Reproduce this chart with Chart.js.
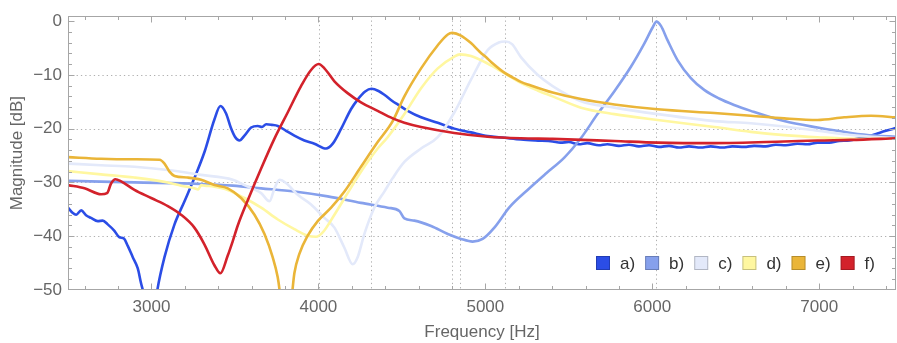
<!DOCTYPE html>
<html>
<head>
<meta charset="utf-8">
<script src="https://cdn.jsdelivr.net/npm/chart.js@4/dist/chart.umd.min.js"></script>
<style>
html,body{margin:0;padding:0;background:#fff;}
canvas{display:block;}
</style>
</head>
<body>
<canvas id="c" width="897" height="343" style="width:897px;height:343px"></canvas>
<script>
// ---- data ----
const seriesLabels = ['a)', 'b)', 'c)', 'd)', 'e)', 'f)'];
const seriesColors = ['#2b4de6', '#86a0ec', '#e3e9fa', '#fff7a0', '#eab538', '#d3222b'];

const freqA = [2500,2529,2549,2579,2608,2638,2678,2708,2738,2778,2808,2834,2858,2888,2918,2938,2950,2990,3034,3078,3138,3198,3257,3317,3377,3413,3447,3475,3500,3527,3557,3597,3637,3662,3687,3720,3757,3806,3856,3916,3976,4046,4086,4135,4195,4235,4280,4318,4360,4395,4445,4475,4535,4615,4715,4814,4914,5014,5114,5213,5300,5403,5450,5500,5560,5610,5680,5730,5800,5860,5920,5980,6040,6100,6160,6220,6290,6350,6420,6480,6550,6610,6680,6740,6800,6870,6930,6990,7060,7120,7180,7250,7300,7349,7400,7460];
const magA  = [-34.7,-35.7,-36.0,-35.2,-36.1,-36.6,-37.2,-37.1,-37.8,-39.0,-40.2,-40.4,-41.8,-43.9,-46.0,-48.8,-50.3,-60,-50.2,-43.9,-37.8,-33.5,-29.2,-24.4,-18.3,-15.8,-17.2,-19.8,-21.5,-22.2,-21.3,-19.8,-19.5,-19.7,-19.2,-19.3,-19.5,-20.4,-21.3,-22.2,-22.8,-23.7,-22.8,-20.1,-16.4,-14.6,-13.1,-12.6,-13.0,-13.7,-14.9,-15.5,-16.7,-17.9,-18.9,-20.0,-20.7,-21.4,-21.7,-22.0,-22.2,-22.4,-22.6,-22.5,-22.9,-22.7,-23.1,-22.9,-23.2,-23.0,-23.3,-23.1,-23.4,-23.2,-23.5,-23.3,-23.5,-23.3,-23.5,-23.3,-23.4,-23.2,-23.3,-23.0,-23.1,-22.8,-22.9,-22.6,-22.6,-22.3,-22.2,-21.7,-21.4,-20.9,-20.4,-19.9];

const freqB = [2500,2898,3297,3487,3657,3856,4056,4255,4415,4485,4515,4575,4675,4775,4854,4924,4984,5054,5145,5253,5365,5473,5572,5672,5772,5872,5952,6002,6025,6052,6092,6152,6231,6311,6400,6490,6590,6790,6990,7190,7330,7460];
const magB  = [-29.7,-30.0,-30.3,-30.6,-31.1,-31.7,-32.6,-33.8,-34.7,-35.3,-36.7,-37.1,-38.1,-39.6,-40.5,-41.0,-40.5,-38.4,-34.6,-31.4,-28.3,-25.4,-21.8,-17.3,-13.1,-8.5,-4.2,-1.2,-0.1,-0.9,-3.6,-7.3,-10.6,-12.8,-14.4,-15.6,-16.7,-18.6,-19.8,-20.8,-21.3,-21.5];

const freqC = [2500,2698,2898,3098,3297,3487,3557,3657,3707,3737,3767,3806,3876,3956,4036,4096,4155,4205,4235,4275,4335,4395,4445,4515,4615,4715,4814,4914,5014,5080,5120,5160,5213,5313,5403,5573,5773,6032,6372,6590,6790,6990,7190,7460];
const magC  = [-26.5,-26.8,-27.1,-27.7,-28.6,-29.5,-30.5,-32.0,-33.5,-31.1,-29.5,-30.1,-32.3,-34.1,-36.6,-38.4,-42.1,-45.2,-43.9,-39.6,-34.7,-31.7,-29.2,-26.2,-23.7,-21.6,-17.0,-10.9,-5.4,-4.0,-3.8,-4.3,-6.7,-10.0,-12.1,-14.9,-16.1,-17.3,-18.6,-19.0,-19.6,-20.4,-21.2,-21.8];

const freqD = [2500,2698,2898,3098,3177,3257,3280,3298,3320,3377,3457,3557,3657,3757,3856,3936,3986,4026,4096,4175,4255,4355,4415,4515,4615,4715,4814,4848,4914,5014,5114,5213,5313,5403,5573,5773,6032,6372,6590,6790,6990,7230,7460];
const magD  = [-27.9,-28.5,-29.1,-30.0,-30.6,-31.1,-31.3,-30.5,-30.6,-30.8,-31.4,-32.9,-34.7,-36.9,-38.7,-39.9,-40.1,-39.3,-36.0,-32.0,-28.0,-23.7,-21.6,-17.3,-12.5,-8.8,-6.6,-6.2,-6.5,-7.9,-9.7,-11.5,-12.9,-14.0,-16.1,-17.3,-18.4,-19.7,-20.6,-21.2,-21.6,-21.9,-21.8];

const freqE = [2500,2698,2898,3048,3078,3108,3138,3217,3297,3377,3457,3537,3617,3677,3726,3756,3768,3805,3844,3856,3886,3936,3996,4076,4156,4255,4355,4445,4515,4615,4715,4775,4802,4854,4914,4966,5014,5045,5114,5165,5213,5265,5403,5573,5773,6032,6372,6590,6790,6990,7150,7310,7460];
const magE  = [-25.3,-25.6,-25.7,-25.8,-26.5,-28.0,-28.8,-29.1,-29.5,-30.5,-31.1,-32.9,-36.0,-39.6,-43.9,-47.6,-50.2,-62,-50.2,-46.9,-43.3,-39.9,-37.2,-34.7,-31.7,-27.1,-22.5,-18.6,-14.0,-8.8,-4.5,-2.5,-2.2,-2.7,-4.1,-5.7,-7.0,-7.9,-9.6,-10.5,-11.3,-11.9,-13.3,-14.5,-15.5,-16.4,-17.1,-17.6,-18.1,-18.4,-17.9,-17.6,-17.9];

const freqF = [2500,2599,2698,2734,2758,2784,2818,2898,2998,3098,3177,3257,3317,3377,3413,3457,3487,3517,3577,3657,3736,3816,3896,3956,4002,4036,4096,4175,4255,4355,4445,4515,4615,4814,5014,5213,5403,5773,6032,6372,6790,6990,7190,7460];
const magF  = [-30.5,-31.1,-32.2,-32.0,-30.2,-29.4,-29.8,-31.4,-32.9,-34.4,-36.0,-38.4,-41.5,-45.4,-46.9,-43.6,-40.9,-38.0,-33.3,-27.4,-21.9,-17.0,-12.1,-9.1,-8.0,-8.8,-11.2,-13.4,-15.1,-16.7,-18.1,-18.9,-19.7,-20.8,-21.5,-21.8,-21.9,-22.3,-22.6,-22.7,-22.4,-22.2,-22.1,-21.8];

const xTickValues = [3000, 4000, 5000, 6000, 7000];
const yTickValues = [0, -10, -20, -30, -40, -50];
const xGridValues = [4003, 4313, 4802, 4848, 5120, 6025];
const yGridValues = [-10, -20, -30, -40];

// ---- chart ----
const freqs = [freqA, freqB, freqC, freqD, freqE, freqF];
const mags  = [magA, magB, magC, magD, magE, magF];
const FONT = "'Liberation Sans', Arial, Helvetica, sans-serif";

const datasets = seriesLabels.map((lab, i) => ({
  label: lab,
  data: freqs[i].map((f, j) => ({x: f, y: mags[i][j]})),
  borderColor: seriesColors[i],
  backgroundColor: seriesColors[i],
  borderWidth: 2.6,
  pointRadius: 0,
  fill: false,
  cubicInterpolationMode: 'monotone',
  clip: 0,
  order: 5 - i
}));

const framePlugin = {
  id: 'mmaFrame',
  beforeDatasetsDraw(chart) {
    const {ctx, chartArea: a, scales: {x, y}} = chart;
    ctx.save();
    ctx.strokeStyle = '#b0b0b0';
    ctx.lineWidth = 1;
    ctx.setLineDash([1.3, 3]);
    for (const v of yGridValues) {
      const py = Math.round(y.getPixelForValue(v)) + 0.5;
      ctx.beginPath(); ctx.moveTo(a.left, py); ctx.lineTo(a.right, py); ctx.stroke();
    }
    for (const v of xGridValues) {
      const px = Math.round(x.getPixelForValue(v)) + 0.5;
      ctx.beginPath(); ctx.moveTo(px, a.top); ctx.lineTo(px, a.bottom); ctx.stroke();
    }
    ctx.restore();
  },
  afterDatasetsDraw(chart) {
    const {ctx, chartArea: a, scales: {x, y}} = chart;
    ctx.save();
    ctx.strokeStyle = '#a6a6a6';
    ctx.lineWidth = 1;
    ctx.setLineDash([]);
    const L = Math.round(a.left) + 0.5, R = Math.round(a.right) - 0.5;
    const T = Math.round(a.top) + 0.5, B = Math.round(a.bottom) - 0.5;
    ctx.strokeRect(L, T, R - L, B - T);
    ctx.beginPath();
    for (let v = 2600; v <= 7400; v += 200) {
      const px = Math.round(x.getPixelForValue(v)) + 0.5;
      const len = (v % 1000 === 0) ? 6 : 3.5;
      ctx.moveTo(px, B); ctx.lineTo(px, B - len);
      ctx.moveTo(px, T); ctx.lineTo(px, T + len);
    }
    for (let v = -48; v <= 0; v += 2) {
      const py = Math.round(y.getPixelForValue(v)) + 0.5;
      const len = (v % 10 === 0) ? 6 : 3.5;
      ctx.moveTo(L, py); ctx.lineTo(L + len, py);
      ctx.moveTo(R, py); ctx.lineTo(R - len, py);
    }
    ctx.stroke();
    ctx.restore();
  },
  afterDraw(chart) {
    const {ctx} = chart;
    ctx.save();
    ctx.font = '17px ' + FONT;
    ctx.textBaseline = 'middle';
    ctx.textAlign = 'left';
    let px = 596;
    const top = 256, sz = 14;
    chart.data.datasets.forEach((ds) => {
      ctx.fillStyle = ds.borderColor;
      ctx.fillRect(px, top, sz, sz);
      ctx.strokeStyle = 'rgba(0,0,0,0.22)';
      ctx.lineWidth = 1;
      ctx.strokeRect(px + 0.5, top + 0.5, sz - 1, sz - 1);
      ctx.fillStyle = '#333';
      ctx.fillText(ds.label, px + sz + 10, top + sz / 2 + 1);
      px += sz + 10 + ctx.measureText(ds.label).width + 10;
    });
    ctx.restore();
  }
};

new Chart(document.getElementById('c').getContext('2d'), {
  type: 'line',
  data: {datasets},
  options: {
    responsive: false,
    animation: false,
    devicePixelRatio: 1,
    layout: {padding: {left: 0, right: 1, top: 12, bottom: 0}},
    plugins: {legend: {display: false}, tooltip: {enabled: false}},
    scales: {
      x: {
        type: 'linear', min: 2500, max: 7460,
        afterBuildTicks: s => { s.ticks = xTickValues.map(v => ({value: v})); },
        afterFit: s => { s.height = 53; },
        grid: {display: false, drawTicks: false},
        border: {display: false},
        ticks: {padding: 7, color: '#666', maxRotation: 0, autoSkip: false,
                font: {size: 17, family: FONT}, callback: v => String(v)},
        title: {display: true, text: 'Frequency [Hz]', color: '#666',
                font: {size: 17, family: FONT}, padding: {top: 0, bottom: 0}}
      },
      y: {
        type: 'linear', min: -50, max: 0.9,
        afterBuildTicks: s => { s.ticks = yTickValues.map(v => ({value: v})); },
        afterFit: s => { s.width = 68; },
        grid: {display: false, drawTicks: false},
        border: {display: false},
        ticks: {padding: 6, color: '#666', autoSkip: false,
                font: {size: 17, family: FONT},
                callback: v => v === 0 ? '0' : '\u2212' + Math.abs(v)},
        title: {display: true, text: 'Magnitude [dB]', color: '#666',
                font: {size: 17, family: FONT}, padding: {top: 7, bottom: 0}}
      }
    }
  },
  plugins: [framePlugin]
});
</script>
</body>
</html>
